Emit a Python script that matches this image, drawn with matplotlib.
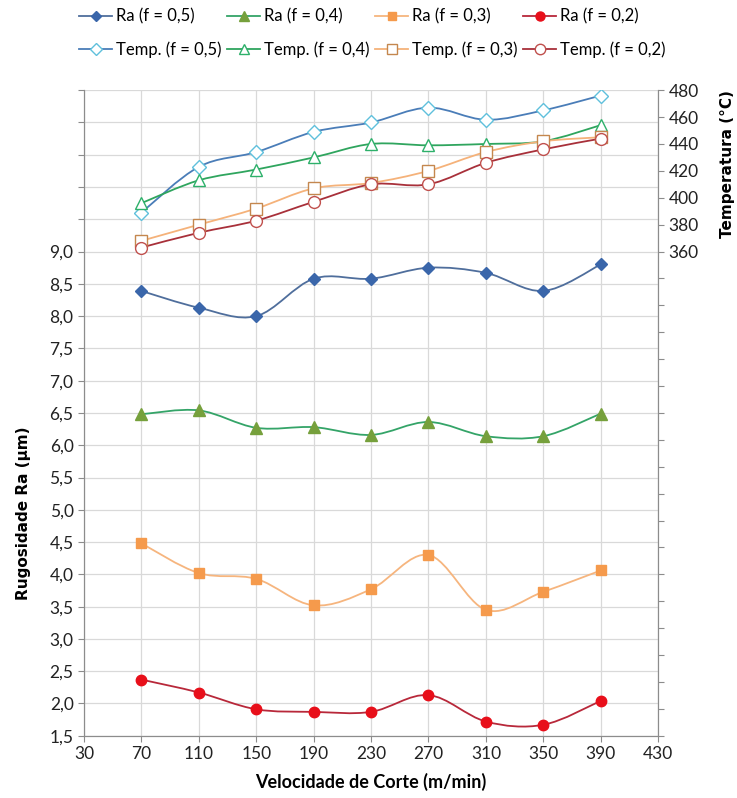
import numpy as np
import matplotlib
matplotlib.use('Agg')
import matplotlib.pyplot as plt
from matplotlib.path import Path
from matplotlib.patches import PathPatch
from matplotlib.lines import Line2D
from matplotlib.ticker import MultipleLocator, FuncFormatter

# data
vc = [70, 110, 150, 190, 230, 270, 310, 350, 390]
x_ticks = [30, 70, 110, 150, 190, 230, 270, 310, 350, 390, 430]

ra_05 = [8.39, 8.13, 8.00, 8.58, 8.58, 8.75, 8.67, 8.39, 8.80]
ra_04 = [6.48, 6.54, 6.27, 6.28, 6.16, 6.36, 6.14, 6.14, 6.49]
ra_03 = [4.48, 4.02, 3.93, 3.52, 3.77, 4.30, 3.45, 3.73, 4.06]
ra_02 = [2.37, 2.17, 1.91, 1.87, 1.87, 2.13, 1.72, 1.67, 2.04]

temp_05 = [389, 423, 434, 449, 456, 467, 458, 465, 476]
temp_04 = [396, 413, 421, 430, 440, 439, 440, 442, 454]
temp_03 = [368, 380, 392, 407, 411, 420, 434, 442, 445]
temp_02 = [363, 374, 383, 397, 410, 410, 426, 436, 444]


def smooth_path(x, y):
    # Excel-like smoothed line: cubic bezier through the points
    pts = np.column_stack([x, y]).astype(float)
    ext = np.vstack([pts[0], pts, pts[-1]])
    verts = [pts[0]]
    codes = [Path.MOVETO]
    for i in range(len(pts) - 1):
        p0, p1, p2, p3 = ext[i], ext[i + 1], ext[i + 2], ext[i + 3]
        c1 = p1 + (p2 - p0) / 6.0
        c2 = p2 - (p3 - p1) / 6.0
        verts += [c1, c2, p2]
        codes += [Path.CURVE4] * 3
    return Path(verts, codes)


fig = plt.figure(figsize=(7.37, 7.98), dpi=100)
ax = fig.add_axes([0.114, 0.078, 0.779, 0.809])
ax2 = ax.twinx()

series_ra = [
    ('Ra (f = 0,5)', ra_05, '#4F6E9C', '#3A66AA', 'D', 6),
    ('Ra (f = 0,4)', ra_04, '#34A468', '#76A03C', '^', 8),
    ('Ra (f = 0,3)', ra_03, '#F6B57E', '#F59A4C', 's', 7),
    ('Ra (f = 0,2)', ra_02, '#B8283A', '#E80F1A', 'o', 7.5),
]
series_t = [
    ('Temp. (f = 0,5)', temp_05, '#4A7DB8', '#5FC0DC', 'D', 7),
    ('Temp. (f = 0,4)', temp_04, '#2FA55E', '#2DB06A', '^', 8.5),
    ('Temp. (f = 0,3)', temp_03, '#F5B27A', '#C4874E', 's', 8),
    ('Temp. (f = 0,2)', temp_02, '#A8303A', '#C0504D', 'o', 8.5),
]

handles = []
for (lab_r, yr, lc_r, mc_r, m_r, s_r), (lab_t, yt, lc_t, mc_t, m_t, s_t) in zip(series_ra, series_t):
    ax.add_patch(PathPatch(smooth_path(vc, yr), fc='none', ec=lc_r, lw=1.3, zorder=3))
    ax.plot(vc, yr, ls='none', marker=m_r, ms=s_r, color=mc_r, mec=mc_r, zorder=4)
    ax2.add_patch(PathPatch(smooth_path(vc, yt), fc='none', ec=lc_t, lw=1.3, zorder=3))
    ax2.plot(vc, yt, ls='none', marker=m_t, ms=s_t, mfc='white', mec=mc_t, mew=1.0, zorder=4)
    handles.append(Line2D([], [], color=lc_r, lw=1.3, marker=m_r, ms=s_r - 1, mfc=mc_r, mec=mc_r, label=lab_r))
    handles.append(Line2D([], [], color=lc_t, lw=1.3, marker=m_t, ms=s_t - 1, mfc='white', mec=mc_t, label=lab_t))

# left axis
ax.set_xlim(30, 430)
ax.set_ylim(1.5, 11.5)
ax.set_xticks(x_ticks)
ax.yaxis.set_major_locator(MultipleLocator(0.5))
ax.yaxis.set_major_formatter(FuncFormatter(
    lambda v, p: ('%.1f' % v).replace('.', ',') if v <= 9.001 else ''))
ax.grid(True, color='#D9D9D9', lw=0.9)
ax.set_axisbelow(True)

# right axis
ax2.set_ylim(0, 480)
ax2.yaxis.set_major_locator(MultipleLocator(20))
ax2.yaxis.set_major_formatter(FuncFormatter(
    lambda v, p: '%d' % v if v >= 359 else ''))

for a in (ax, ax2):
    a.spines['top'].set_visible(False)
    for s in ('left', 'right', 'bottom'):
        a.spines[s].set_color('#8C8C8C')
    a.tick_params(colors='#8C8C8C', labelcolor='#222222', labelsize=12.5, length=4)
    for t in a.get_xticklabels() + a.get_yticklabels():
        t.set_family('Lato')

ax.set_xlabel('Velocidade de Corte (m/min)', fontsize=13, fontweight='bold',
              family='Lato', labelpad=8)
ax.set_ylabel('Rugosidade Ra (µm)', fontsize=11, fontweight='bold')
ax.yaxis.set_label_coords(-0.093, 0.345)
ax2.set_ylabel('Temperatura (°C)', fontsize=11, fontweight='bold')
ax2.yaxis.set_label_coords(1.107, 0.885)

fig.legend(handles=handles, loc='upper center', bbox_to_anchor=(0.505, 1.008),
           ncol=4, frameon=False, prop={'family': 'Lato', 'size': 12},
           handlelength=2.0, handletextpad=0.2, columnspacing=0.35, labelspacing=1.0)

fig.savefig('out.png', dpi=100, facecolor='white')
